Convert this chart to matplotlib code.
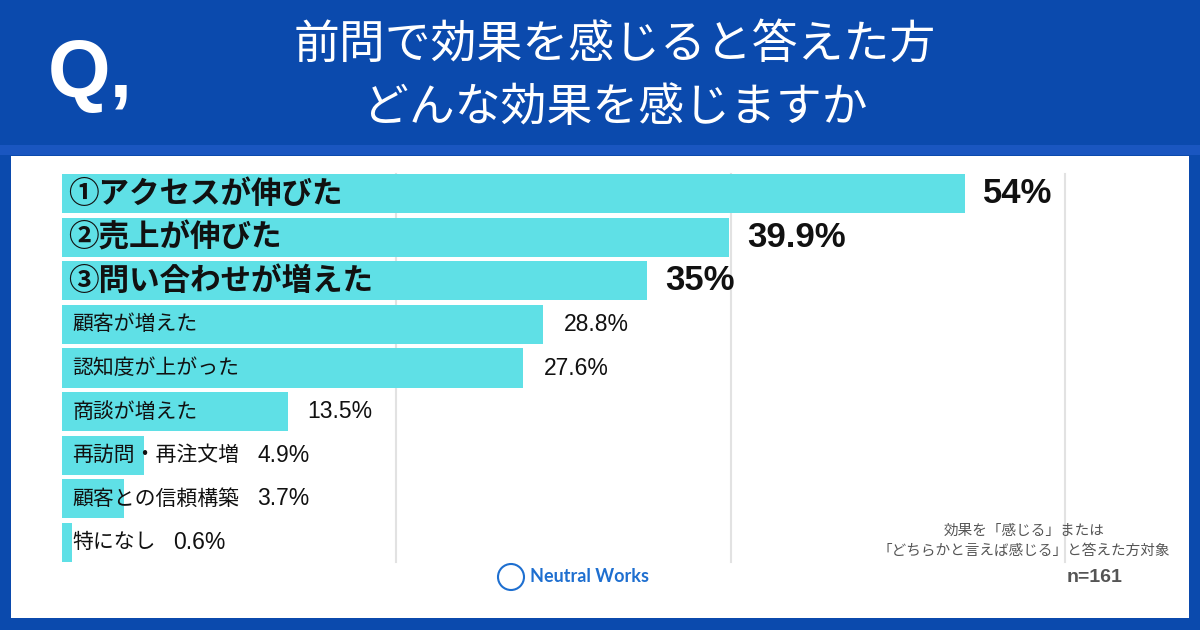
import matplotlib
matplotlib.use('Agg')
import matplotlib.pyplot as plt
from matplotlib.patches import Rectangle, Ellipse

plt.rcParams['font.family'] = ['Noto Sans CJK JP', 'DejaVu Sans']

# data
labels = ['①アクセスが伸びた', '②売上が伸びた', '③問い合わせが増えた',
          '顧客が増えた', '認知度が上がった', '商談が増えた',
          '再訪問・再注文増', '顧客との信頼構築', '特になし']
values = [54, 39.9, 35, 28.8, 27.6, 13.5, 4.9, 3.7, 0.6]
value_text = ['54%', '39.9%', '35%', '28.8%', '27.6%', '13.5%', '4.9%', '3.7%', '0.6%']
top_n = 3
gridlines = [20, 40, 60]

title = '前問で効果を感じると答えた方\nどんな効果を感じますか'
note = '効果を「感じる」または\n「どちらかと言えば感じる」と答えた方対象'
n_text = 'n=161'

W, H = 1200, 630
BLUE = '#0b4aad'
BAR = '#5fe0e6'
num_font = ['Liberation Sans', 'Noto Sans CJK JP']

fig = plt.figure(figsize=(12, 6.3), dpi=100, facecolor=BLUE)

def fx(px):
    return px / W

def fy(py):
    return 1 - py / H

# background panels
fig.patches.append(Rectangle((0, fy(155)), 1, fy(145) - fy(155), transform=fig.transFigure,
                             facecolor='#1a56c0', edgecolor='none', zorder=-2))
fig.patches.append(Rectangle((fx(11), fy(618)), fx(1189) - fx(11), fy(156) - fy(618),
                             transform=fig.transFigure, facecolor='white', edgecolor='none', zorder=-2))

# header
fig.text(fx(48), fy(76), 'Q,', color='white', fontsize=58, fontweight='bold',
         family=num_font, ha='left', va='center')
fig.text(fx(615), fy(76), title, color='white', fontsize=33, ha='center', va='center',
         linespacing=1.4)

# chart
ax = fig.add_axes([fx(62), fy(562), fx(1065) - fx(62), fy(174) - fy(562)])
ax.set_xlim(0, 60)
ax.set_ylim(len(values) - 0.55, -0.45)
ax.axis('off')
for g in gridlines:
    ax.axvline(g, color='#e2e2e2', lw=1.5, zorder=0, clip_on=False)

ypos = list(range(len(values)))
ax.barh(ypos, values, height=0.895, color=BAR, zorder=1)

fig.canvas.draw()
renderer = fig.canvas.get_renderer()
px_per_unit = (1065 - 62) / 60.0

for i, (lab, v, vt) in enumerate(zip(labels, values, value_text)):
    if i < top_n:
        ax.text(0.35, i, lab, fontsize=22, fontweight='bold', color='#111111',
                ha='left', va='center', zorder=3)
        ax.text(v + 1.1, i, vt, fontsize=25, fontweight='bold', family=num_font,
                color='#111111', ha='left', va='center', zorder=3)
    else:
        t = ax.text(0.6, i, lab, fontsize=15, color='#111111',
                    ha='left', va='center', zorder=3)
        bb = t.get_window_extent(renderer=renderer)
        lab_end = ax.transData.inverted().transform((bb.x1, bb.y0))[0]
        x_val = v + 1.2
        if lab_end > v:
            x_val = lab_end + 18 / px_per_unit
        ax.text(x_val, i, vt, fontsize=16.5, family=num_font,
                color='#111111', ha='left', va='center', zorder=3)

# footnote
fig.text(fx(1024), fy(541), note, color='#555555', fontsize=10.5, ha='center', va='center',
         linespacing=1.5)
fig.text(fx(1095), fy(578), n_text, color='#555555', fontsize=14, fontweight='bold',
         family=num_font, ha='center', va='center')

# logo
fig.patches.append(Ellipse((fx(511), fy(577)), 26 / W, 26 / H, transform=fig.transFigure,
                           facecolor='none', edgecolor='#1e6fd0', lw=1.5))
fig.text(fx(530), fy(577), 'Neutral Works', color='#1e6fd0', fontsize=13,
         fontweight='bold', family=['Lato', 'DejaVu Sans'], ha='left', va='center')

fig.savefig('out.png', dpi=100, facecolor=BLUE)
